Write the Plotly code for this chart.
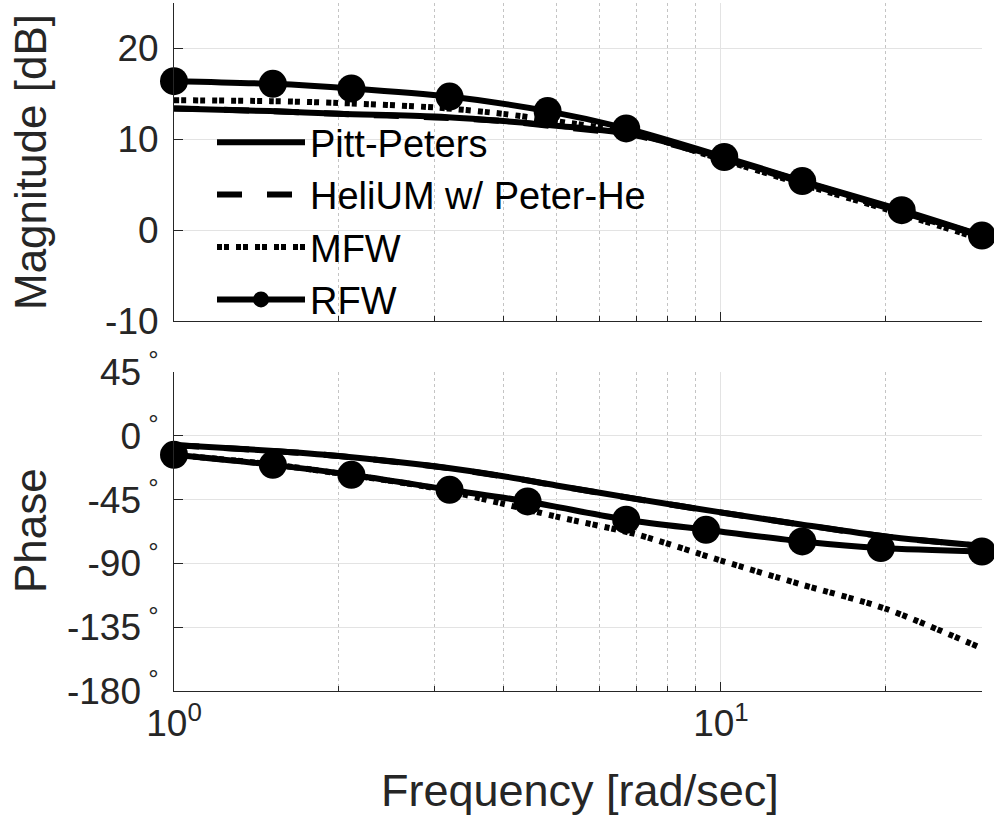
import plotly.graph_objects as go

# ---------------- data ----------------
freq = [1, 1.5, 2, 3, 4, 5, 7, 10, 14, 20, 30]

mag_pitt = [13.4, 13.1, 12.8, 12.5, 12.0, 11.5, 10.5, 8.0, 5.4, 2.6, -0.6]
mag_helium = [13.4, 13.1, 12.8, 12.4, 12.0, 11.4, 10.4, 7.9, 5.3, 2.5, -0.7]
mag_mfw = [14.3, 14.2, 14.0, 13.5, 12.8, 12.0, 10.6, 7.8, 5.1, 2.3, -1.0]

ph_pitt = [-6.5, -10.5, -14.2, -21.5, -28.5, -35.0, -44.5, -54.0, -62.5, -71.0, -77.6]
ph_helium = [-6.6, -10.6, -14.3, -21.6, -28.6, -35.1, -44.6, -54.1, -62.6, -71.1, -77.7]
ph_mfw = [-13.4, -20.0, -26.5, -37.0, -48.0, -57.0, -69.5, -88.0, -104.8, -122.0, -150.0]

freq_rfw_mag = [1, 1.516, 2.11, 3.19, 4.82, 6.71, 10.14, 14.08, 21.4, 30]
mag_rfw = [16.4, 16.1, 15.6, 14.7, 13.1, 11.2, 8.05, 5.4, 2.2, -0.6]

freq_rfw_ph = [1, 1.516, 2.11, 3.19, 4.43, 6.71, 9.39, 14.08, 19.6, 30]
ph_rfw = [-13.4, -20.5, -27.5, -38.1, -46.3, -59.2, -66.3, -74.5, -79.2, -81.6]

series_names = ["Pitt-Peters", "HeliUM w/ Peter-He", "MFW", "RFW"]

mag_ticks = [-10, 0, 10, 20]
mag_ticktext = ["%d" % v for v in mag_ticks]
ph_ticks = [-180, -135, -90, -45, 0, 45]
ph_ticktext = ["%d<sup> °</sup>" % v for v in ph_ticks]
x_major = [1, 10]
x_major_text = ["10<sup>0</sup>", "10<sup>1</sup>"]
x_minor = [2, 3, 4, 5, 6, 7, 8, 9, 20]

# ---------------- figure ----------------
FONT = "Liberation Sans, Arial, Helvetica, sans-serif"
AX = "#262626"
GRID = "#e3e3e3"
MGRID = "#c4c4c4"
LW = 6

fig = go.Figure()

def add(x, y, name, dash, row, show, mode="lines", marker=None):
    kw = dict(x=x, y=y, name=name, mode=mode, showlegend=show,
              line=dict(color="black", width=LW, dash=dash, shape="spline", smoothing=0.8),
              cliponaxis=False,
              xaxis="x" if row == 1 else "x2", yaxis="y" if row == 1 else "y2")
    if marker:
        kw["marker"] = marker
    fig.add_trace(go.Scatter(**kw))

mk = dict(symbol="circle", size=28, color="black")
MFW_DASH = "5px,2px,5px,7px"
HEL_DASH = "25px,25px"

add(freq, mag_pitt, series_names[0], "solid", 1, True)
add(freq, mag_helium, series_names[1], HEL_DASH, 1, True)
add(freq, mag_mfw, series_names[2], MFW_DASH, 1, True)
add(freq_rfw_mag, mag_rfw, series_names[3], "solid", 1, True, "lines+markers", mk)

add(freq, ph_pitt, series_names[0], "solid", 2, False)
add(freq, ph_helium, series_names[1], HEL_DASH, 2, False)
add(freq, ph_mfw, series_names[2], MFW_DASH, 2, False)
add(freq_rfw_ph, ph_rfw, series_names[3], "solid", 2, False, "lines+markers", mk)

W, H = 994, 822
xdom = [174 / W, 982 / W]
top_dom = [1 - 321 / H, 1 - 3 / H]
bot_dom = [1 - 691 / H, 1 - 372 / H]

tickfont = dict(family=FONT, size=37, color=AX)

def xaxis_cfg(labels, anchor):
    d = dict(type="log", range=[0, 1.4772], domain=xdom, anchor=anchor,
             tickmode="array", tickvals=x_major,
             showticklabels=labels, ticks="inside", ticklen=9, tickcolor=AX,
             showline=True, linecolor=AX, linewidth=1, mirror=False,
             showgrid=True, gridcolor=GRID, gridwidth=1, zeroline=False,
             tickfont=tickfont, automargin=False,
             minor=dict(tickmode="array", tickvals=x_minor, ticks="inside",
                        ticklen=5, tickcolor=AX, showgrid=True,
                        gridcolor=MGRID, griddash="dot", gridwidth=1))
    if labels:
        d["ticktext"] = x_major_text
    return d

def yaxis_cfg(dom, rng, vals, text, anchor):
    return dict(domain=dom, range=rng, anchor=anchor, tickmode="array", tickvals=vals,
                ticktext=text,
                ticks="inside", ticklen=9, tickcolor=AX,
                showline=True, linecolor=AX, linewidth=1, mirror=False,
                showgrid=True, gridcolor=GRID, gridwidth=1, zeroline=False,
                tickfont=tickfont, automargin=False, ticklabelstandoff=7)

fig.update_layout(
    width=W, height=H,
    margin=dict(l=0, r=0, t=0, b=0),
    paper_bgcolor="white", plot_bgcolor="white",
    font=dict(family=FONT, color=AX),
    xaxis=xaxis_cfg(False, "y"),
    yaxis=yaxis_cfg(top_dom, [-10, 25], mag_ticks, mag_ticktext, "x"),
    xaxis2=xaxis_cfg(True, "y2"),
    yaxis2=yaxis_cfg(bot_dom, [-180, 45], ph_ticks, ph_ticktext, "x2"),
    legend=dict(x=212 / W, y=1 - 111 / H, xanchor="left", yanchor="top",
                bgcolor="rgba(0,0,0,0)", borderwidth=0, itemwidth=88,
                font=dict(family=FONT, size=38, color="black"),
                tracegroupgap=0),
    showlegend=True,
    annotations=[
        dict(text="Magnitude [dB]", x=31 / W, y=1 - 162 / H, xref="paper", yref="paper",
             textangle=-90, showarrow=False, xanchor="center", yanchor="middle",
             font=dict(family=FONT, size=44, color=AX)),
        dict(text="Phase", x=30 / W, y=1 - 531 / H, xref="paper", yref="paper",
             textangle=-90, showarrow=False, xanchor="center", yanchor="middle",
             font=dict(family=FONT, size=44, color=AX)),
        dict(text="Frequency [rad/sec]", x=580 / W, y=1 - 790 / H, xref="paper", yref="paper",
             showarrow=False, xanchor="center", yanchor="middle",
             font=dict(family=FONT, size=45, color=AX)),
    ],
)

fig.write_html("out.html")
